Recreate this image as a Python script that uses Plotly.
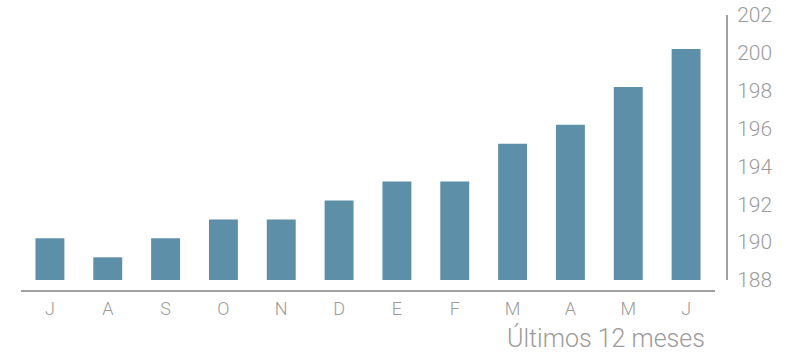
import plotly.graph_objects as go

months = ["J", "A", "S", "O", "N", "D", "E", "F", "M", "A", "M", "J"]
values = [190.2, 189.2, 190.2, 191.2, 191.2, 192.2, 193.2, 193.2, 195.2, 196.2, 198.2, 200.2]
y_ticks = [188, 190, 192, 194, 196, 198, 200, 202]
base_value = 188
title_text = "Últimos 12 meses"

x_pos = list(range(len(months)))

FONT = "Roboto"
GRAY = "#9b9b9b"

fig = go.Figure(
    go.Bar(
        x=x_pos,
        y=[v - base_value for v in values],
        base=base_value,
        marker=dict(color="#5d8fa8", line=dict(width=0)),
        width=0.5,
        hoverinfo="skip",
    )
)

W, H = 796, 353
ml = 21
mr = W - 727
mt = 15
mb = H - 291
plot_h = H - mt - mb
plot_w = W - ml - mr

fig.update_layout(
    width=W,
    height=H,
    margin=dict(l=ml, r=mr, t=mt, b=mb, autoexpand=False),
    paper_bgcolor="white",
    plot_bgcolor="white",
    showlegend=False,
    font=dict(family=FONT, color=GRAY, weight=300),
    xaxis=dict(
        domain=[0, (715 - 21) / plot_w],
        anchor="free",
        position=0,
        automargin=False,
        tickmode="array",
        tickvals=x_pos,
        ticktext=months,
        range=[-0.5, len(months) - 0.5],
        showline=True,
        linecolor="#a0a0a0",
        linewidth=2,
        showgrid=False,
        zeroline=False,
        ticks="",
        ticklabelstandoff=1,
        tickfont=dict(family=FONT, size=18, color=GRAY, weight=300),
    ),
    yaxis=dict(
        domain=[(291 - 280) / plot_h, 1],
        anchor="free",
        position=1,
        side="right",
        automargin=False,
        range=[188, 202],
        tickmode="array",
        tickvals=y_ticks,
        showline=True,
        linecolor="#a0a0a0",
        linewidth=2,
        showgrid=False,
        zeroline=False,
        ticks="",
        ticklabelstandoff=5,
        ticklabeloverflow="allow",
        tickfont=dict(family=FONT, size=21, color=GRAY, weight=300),
    ),
    annotations=[
        dict(
            text=title_text,
            xref="paper",
            yref="paper",
            x=(707 - 21) / plot_w,
            y=-(338 - 291) / plot_h,
            xanchor="right",
            yanchor="middle",
            showarrow=False,
            font=dict(family=FONT, size=25, color=GRAY, weight=300),
        )
    ],
)

fig.write_html(
    "out.html",
    config={"displayModeBar": False},
    post_script="document.body.style.margin='0';document.body.style.overflow='hidden';",
)
